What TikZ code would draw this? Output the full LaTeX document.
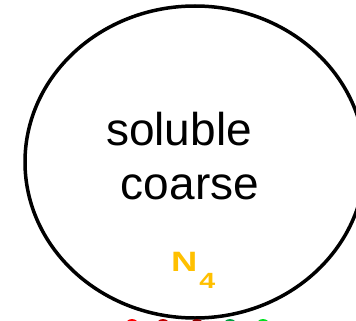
\documentclass[tikz,border=0pt]{standalone}
\usepackage{fontspec}
\setmainfont{Liberation Sans}
\definecolor{gold}{HTML}{FFC000}
\definecolor{dotredA}{HTML}{FF0000}
\definecolor{dotredB}{HTML}{C00000}
\definecolor{dotredC}{HTML}{900000}
\definecolor{dotgreenA}{HTML}{00A040}
\definecolor{dotgreenB}{HTML}{00E020}
\begin{document}
\begin{tikzpicture}[x=1pt,y=-1pt,
  pool/.style={draw=black,line width=3.5pt},
  label/.style={inner sep=0pt,anchor=base,font=\fontsize{46}{55}\selectfont},
  tag/.style={inner sep=0pt,anchor=base west,text=gold,font=\bfseries\fontsize{28}{30}\selectfont},
  dot/.style={circle,inner sep=0pt,minimum size=14pt}]
\useasboundingbox (0,0) rectangle (356,321);
% the pool
\draw[pool] (195,162) ellipse [x radius=170, y radius=156];
\node[label] (l1) at (179,145) {soluble};
\node[label] (l2) at (190,199) {coarse};
\node[tag] (n4) at (171,271)
  {\scalebox{1.3}[1]{N\hspace{1.5pt}\raisebox{-17pt}{\fontsize{22}{23}\selectfont 4}}};
% markers along the lower edge
\node[dot,fill=dotredA]   (d1) at (132,326) {};
\node[dot,fill=dotredB]   (d2) at (163,326) {};
\node[dot,fill=dotredC]   (d3) at (197,326) {};
\node[dot,fill=dotgreenA] (d4) at (230,326) {};
\node[dot,fill=dotgreenB] (d5) at (263,326) {};
\end{tikzpicture}
\end{document}
